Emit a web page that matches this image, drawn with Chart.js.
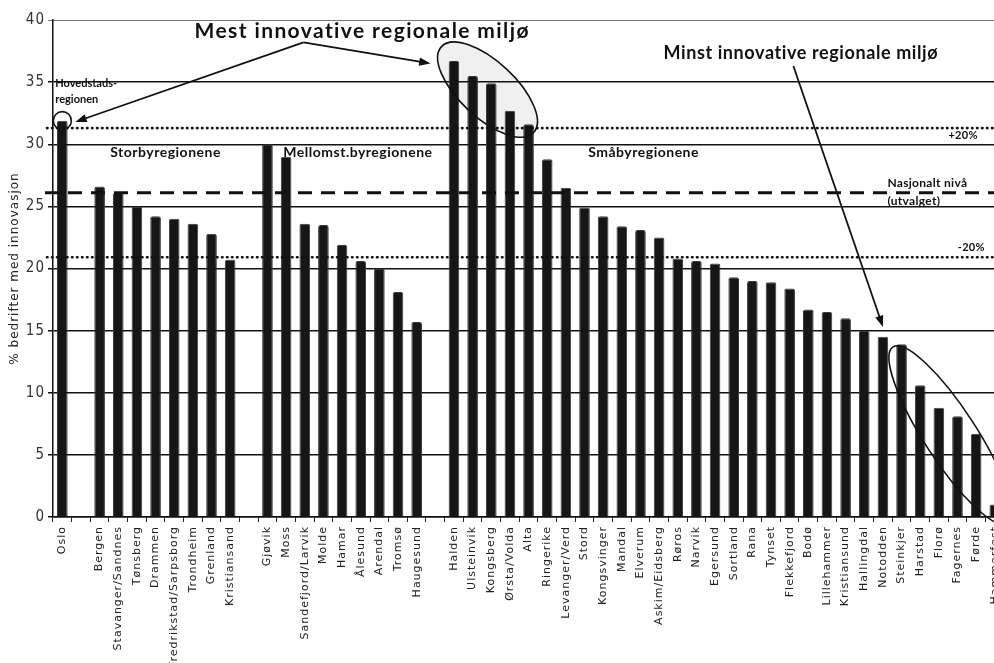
<!DOCTYPE html>
<html lang="no">

<head>
    <meta charset="UTF-8">
    <title>Innovasjon i regionene</title>
    <script src="https://cdn.jsdelivr.net/npm/chart.js@4.4.0/dist/chart.umd.min.js"></script>
    <style>
        body { margin: 0; overflow: hidden; background: #fff; }
    </style>
</head>

<body>
    <canvas id="chart" width="1012" height="663"></canvas>

    <script>
        // regions, '' = gap between the groups
        const regions = ['Oslo', '',
            'Bergen', 'Stavanger/Sandnes', 'Tønsberg', 'Drammen', 'Fredrikstad/Sarpsborg', 'Trondheim', 'Grenland', 'Kristiansand', '',
            'Gjøvik', 'Moss', 'Sandefjord/Larvik', 'Molde', 'Hamar', 'Ålesund', 'Arendal', 'Tromsø', 'Haugesund', '',
            'Halden', 'Ulsteinvik', 'Kongsberg', 'Ørsta/Volda', 'Alta', 'Ringerike', 'Levanger/Verd', 'Stord', 'Kongsvinger', 'Mandal',
            'Elverum', 'Askim/Eidsberg', 'Røros', 'Narvik', 'Egersund', 'Sortland', 'Rana', 'Tynset', 'Flekkefjord', 'Bodø',
            'Lillehammer', 'Kristiansund', 'Hallingdal', 'Notodden', 'Steinkjer', 'Harstad', 'Florø', 'Fagernes', 'Førde', 'Hammerfest'];

        // % bedrifter med innovasjon
        const shares = [31.9, null,
            26.6, 26.1, 25.0, 24.2, 24.0, 23.6, 22.8, 20.7, null,
            30.0, 29.0, 23.6, 23.5, 21.9, 20.6, 20.0, 18.1, 15.7, null,
            36.7, 35.5, 34.9, 32.7, 31.6, 28.8, 26.5, 24.9, 24.2, 23.4,
            23.1, 22.5, 20.8, 20.6, 20.4, 19.3, 19.0, 18.9, 18.4, 16.7,
            16.5, 16.0, 15.0, 14.5, 13.9, 10.6, 8.8, 8.1, 6.7, 1.0];

        const yTicks = [0, 5, 10, 15, 20, 25, 30, 35, 40];

        // national level and +/- 20 %
        const nationalLevel = 26.1;
        const upperLevel = 31.3;
        const lowerLevel = 20.9;

        // group names: [text, category index of left edge]
        const groupLabels = [['Storbyregionene', 2.57], ['Mellomst.byregionene', 11.85], ['Småbyregionene', 28.2]];

        const annoFont = 'Lato, "Open Sans", sans-serif';

        // the scanned axis texts are widely spaced
        const spacing = {
            id: 'spacing',
            beforeUpdate(chart) { chart.ctx.letterSpacing = '1px'; },
            beforeDraw(chart) { chart.ctx.letterSpacing = '1px'; }
        };

        const annotations = {
            id: 'annotations',
            afterDatasetsDraw(chart) {
                const ctx = chart.ctx;
                const x = chart.scales.x, y = chart.scales.y;
                const area = chart.chartArea;
                const px = i => x.getPixelForValue(i);
                const py = v => y.getPixelForValue(v);

                ctx.save();

                // reference lines
                ctx.strokeStyle = '#111';
                ctx.lineCap = 'round';
                ctx.lineWidth = 2.6;
                ctx.setLineDash([0.5, 4.5]);
                [upperLevel, lowerLevel].forEach(v => {
                    ctx.beginPath();
                    ctx.moveTo(area.left - 6, py(v));
                    ctx.lineTo(area.right, py(v));
                    ctx.stroke();
                });
                ctx.lineCap = 'butt';
                ctx.lineWidth = 3;
                ctx.setLineDash([14, 9]);
                ctx.beginPath();
                ctx.moveTo(area.left - 8, py(nationalLevel));
                ctx.lineTo(area.right, py(nationalLevel));
                ctx.stroke();
                ctx.setLineDash([]);

                // texts
                ctx.fillStyle = '#111';
                ctx.textBaseline = 'middle';
                ctx.textAlign = 'center';
                ctx.letterSpacing = '1.4px';
                ctx.font = 'bold 21px ' + annoFont;
                ctx.fillText('Mest innovative regionale miljø', px(16.08), py(39.1));
                ctx.letterSpacing = '0.6px';
                ctx.font = 'bold 18px ' + annoFont;
                ctx.fillText('Minst innovative regionale miljø', px(39.6), py(37.3));

                ctx.textAlign = 'left';
                ctx.letterSpacing = '0px';
                ctx.font = 'bold 11px ' + annoFont;
                ctx.fillText('Hovedstads-', px(-0.38), py(34.9));
                ctx.fillText('regionen', px(-0.38), py(33.6));
                ctx.letterSpacing = '0.5px';
                ctx.font = 'bold 14px ' + annoFont;
                groupLabels.forEach(g => ctx.fillText(g[0], px(g[1]), py(29.3)));

                ctx.letterSpacing = '0.3px';
                ctx.font = 'bold 12px ' + annoFont;
                ctx.fillText('Nasjonalt nivå', px(44.24), py(26.9));
                ctx.fillText('(utvalget)', px(44.24), py(25.4));
                ctx.font = 'bold 11px ' + annoFont;
                ctx.textAlign = 'center';
                ctx.fillText('+20%', px(48.3), py(30.7));
                ctx.fillText('-20%', px(48.74), py(21.7));
                ctx.letterSpacing = '0px';

                // arrows
                const arrow = (x1, y1, x2, y2) => {
                    const a = Math.atan2(y2 - y1, x2 - x1);
                    ctx.lineWidth = 1.8;
                    ctx.beginPath();
                    ctx.moveTo(x1, y1);
                    ctx.lineTo(x2 - 8 * Math.cos(a), y2 - 8 * Math.sin(a));
                    ctx.stroke();
                    ctx.beginPath();
                    ctx.moveTo(x2, y2);
                    ctx.lineTo(x2 - 12 * Math.cos(a - 0.35), y2 - 12 * Math.sin(a - 0.35));
                    ctx.lineTo(x2 - 12 * Math.cos(a + 0.35), y2 - 12 * Math.sin(a + 0.35));
                    ctx.closePath();
                    ctx.fill();
                };
                arrow(px(12.93), py(38.2), px(0.7), py(31.8));
                arrow(px(12.93), py(38.2), px(19.74), py(36.5));
                arrow(px(39.2), py(36.3), px(44.0), py(15.3));

                // ellipses
                ctx.lineWidth = 1.6;
                ctx.beginPath();
                ctx.arc(px(0), py(31.9), 9, 0, Math.PI * 2);
                ctx.stroke();

                ctx.beginPath();
                ctx.ellipse(px(22.8), py(34.4), 63, 28, 43 * Math.PI / 180, 0, Math.PI * 2);
                ctx.fillStyle = 'rgba(0,0,0,0.06)';
                ctx.fill();
                ctx.stroke();

                ctx.beginPath();
                ctx.ellipse(px(47.61), py(6.6), 105, 26, 57 * Math.PI / 180, 0, Math.PI * 2);
                ctx.stroke();

                ctx.restore();
            }
        };

        const ctx = document.getElementById('chart');

        new Chart(ctx, {
            type: 'bar',
            data: {
                labels: regions,
                datasets: [{
                    label: '% bedrifter med innovasjon',
                    data: shares,
                    backgroundColor: '#161616',
                    borderColor: '#3a3a3a',
                    borderWidth: 1,
                    borderRadius: { topLeft: 2, topRight: 2 },
                    borderSkipped: 'bottom',
                    barPercentage: 0.57,
                    categoryPercentage: 1,
                }]
            },
            options: {
                animation: false,
                responsive: false,
                layout: { padding: { top: 20, left: 0, right: 0, bottom: 0 } },
                plugins: {
                    legend: { display: false },
                    tooltip: { enabled: false },
                },
                scales: {
                    x: {
                        afterFit: s => { s.height = 146; },
                        grid: { display: true, drawOnChartArea: false, drawTicks: true, tickLength: 5, color: '#222', offset: true },
                        border: { color: '#111', width: 1.5 },
                        ticks: {
                            autoSkip: false,
                            minRotation: 90,
                            maxRotation: 90,
                            padding: 4,
                            color: '#222',
                            font: { family: '"DejaVu Sans", sans-serif', size: 11 },
                        }
                    },
                    y: {
                        min: 0,
                        max: 40,
                        afterFit: s => { s.width = 53; },
                        afterBuildTicks: s => { s.ticks = yTicks.map(v => ({ value: v })); },
                        grid: {
                            color: c => c.tick && c.tick.value === 40 ? '#777' : '#111',
                            lineWidth: c => c.tick && c.tick.value === 40 ? 1 : 1.5,
                            tickLength: 5,
                        },
                        border: { color: '#111', width: 1.5 },
                        ticks: {
                            padding: 3,
                            color: '#333',
                            font: { family: '"Liberation Sans Narrow", "DejaVu Sans Condensed", sans-serif', size: 15 },
                        },
                        title: {
                            display: true,
                            text: '% bedrifter med innovasjon',
                            color: '#222',
                            padding: { top: 8, bottom: 0 },
                            font: { family: '"DejaVu Sans", sans-serif', size: 12 },
                        }
                    }
                }
            },
            plugins: [spacing, annotations]
        });
    </script>

</body>

</html>
